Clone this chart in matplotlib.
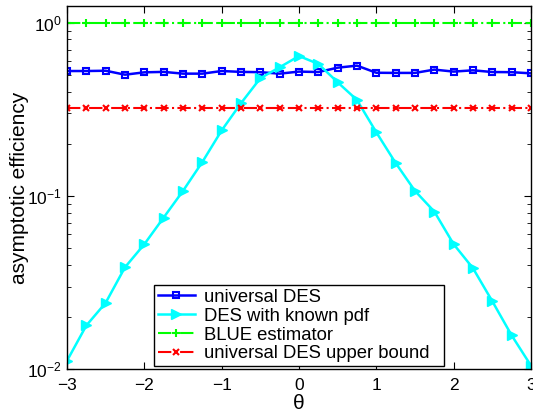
import matplotlib
matplotlib.use("Agg")
import matplotlib.pyplot as plt
import numpy as np

plt.rcParams['font.family'] = ['Liberation Sans', 'DejaVu Sans']

theta = [-3, -2.75, -2.5, -2.25, -2, -1.75, -1.5, -1.25, -1, -0.75, -0.5, -0.25,
         0, 0.25, 0.5, 0.75, 1, 1.25, 1.5, 1.75, 2, 2.25, 2.5, 2.75, 3]
universal_des = [0.526, 0.526, 0.528, 0.501, 0.517, 0.520, 0.508, 0.508, 0.526, 0.520,
                 0.518, 0.508, 0.522, 0.519, 0.550, 0.565, 0.514, 0.513, 0.513, 0.536,
                 0.522, 0.531, 0.519, 0.518, 0.510]
des_known_pdf = [0.0112, 0.0179, 0.0242, 0.0388, 0.0527, 0.0751, 0.107, 0.157, 0.239, 0.343,
                 0.478, 0.553, 0.642, 0.578, 0.453, 0.358, 0.233, 0.155, 0.107, 0.0813,
                 0.0527, 0.0383, 0.0247, 0.0157, 0.0105]
blue_estimator = [1.0] * 25
upper_bound = [0.32] * 25
labels = ['universal DES', 'DES with known pdf', 'BLUE estimator', 'universal DES upper bound']

fig = plt.figure(figsize=(5.33, 4.12), dpi=100)
ax = fig.add_axes([0.1257, 0.1036, 0.8705, 0.8826])

ax.plot(theta, universal_des, color='#0000ff', lw=1.8, marker='s', ms=5, mfc='none', mew=1.5, label=labels[0])
ax.plot(theta, des_known_pdf, color='#00ffff', lw=1.8, marker='>', ms=7, mfc='#00ffff', label=labels[1])
ax.plot(theta, blue_estimator, color='#00ff00', lw=1.5, ls='-.', marker='+', ms=6, mew=1.5, label=labels[2])
ax.plot(theta, upper_bound, color='#ff0000', lw=1.5, ls='-.', marker='x', ms=4.5, mew=1.5, label=labels[3])

ax.set_yscale('log')
ax.set_xlim(-3, 3)
ax.set_ylim(0.01, 1.253)
ax.set_xticks([-3, -2, -1, 0, 1, 2, 3])
ax.set_xticklabels(['\u22123', '\u22122', '\u22121', '0', '1', '2', '3'])
ax.tick_params(axis='both', which='both', direction='in', top=True, right=True, labelsize=12.5)
ax.tick_params(axis='both', which='major', length=5)
ax.tick_params(axis='both', which='minor', length=3)
ax.tick_params(axis='x', pad=6)
ax.tick_params(axis='y', pad=4)
for s in ax.spines.values():
    s.set_linewidth(1.0)
ax.set_xlabel('\u03b8', fontsize=15, labelpad=1)
ax.set_ylabel('asymptotic efficiency', fontsize=15, labelpad=-2)

leg = ax.legend(loc='lower left', bbox_to_anchor=(0.1875, 0.009, 0.625, 0.245), mode='expand',
                fontsize=13.3, fancybox=False, framealpha=1, edgecolor='black',
                borderpad=0.2, labelspacing=0.1, handlelength=2.0, handletextpad=0.5, borderaxespad=0)
leg.get_frame().set_linewidth(1.0)

fig.savefig('out.png', dpi=100)
